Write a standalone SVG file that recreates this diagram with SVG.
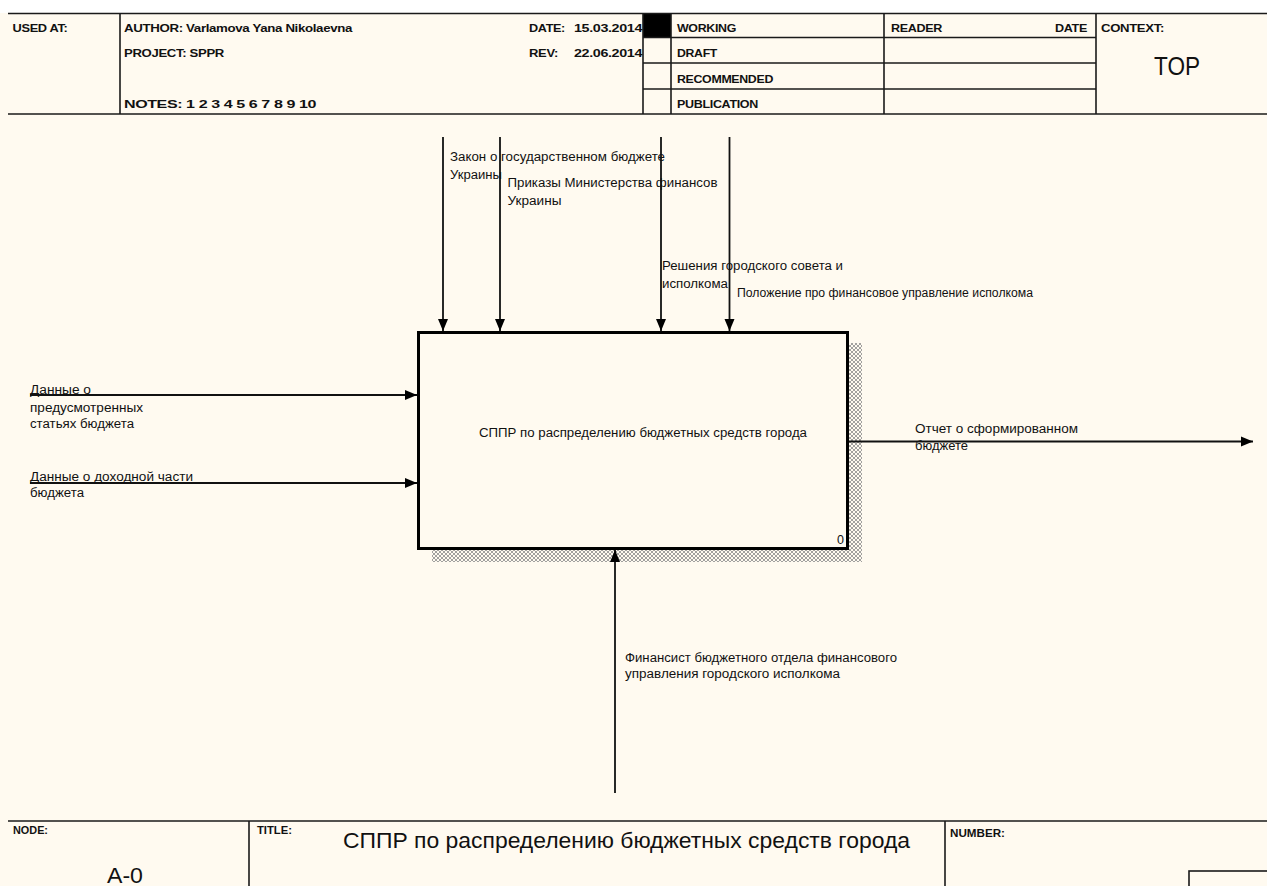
<svg xmlns="http://www.w3.org/2000/svg" width="1267" height="886" viewBox="0 0 1267 886">
<style>
  .frm{stroke:#1a1a1a;stroke-width:1.6;fill:none}
  .hd{font-family:"Liberation Sans",Arial,sans-serif;font-size:11.5px;fill:#111;font-weight:bold;letter-spacing:-0.3px}
  .sm{font-family:"Liberation Sans",Arial,sans-serif;font-size:10px;fill:#111;font-weight:bold}
  .lbl{font-family:"Liberation Sans",Arial,sans-serif;font-size:12.5px;fill:#111}
  .big{font-family:"Liberation Sans",Arial,sans-serif;font-size:22px;fill:#111}
  .top{font-family:"Liberation Sans",Arial,sans-serif;font-size:26px;fill:#111}
  .cn{stroke:#111;stroke-width:1.8;fill:none}
</style>
<defs>
  <marker id="ah" markerUnits="userSpaceOnUse" markerWidth="14" markerHeight="12" refX="12" refY="6" orient="auto">
    <path d="M0,1 L12,6 L0,11 Z" fill="#000"/>
  </marker>
  <pattern id="hatch" width="4" height="4" patternUnits="userSpaceOnUse">
    <rect width="4" height="4" fill="#fffaf0"/>
    <path d="M0,0 L4,4 M4,0 L0,4" stroke="#8a8a8a" stroke-width="0.8"/>
  </pattern>
</defs>
<rect x="0" y="0" width="1267" height="886" fill="#fffaf0"/>
<rect x="0" y="0" width="1267" height="13" fill="#ffffff"/>

<g id="header">
  <rect x="643" y="13" width="28" height="24.5" fill="#000"/>
  <line class="frm" x1="8" y1="13.5" x2="1267" y2="13.5"/>
  <line class="frm" x1="8" y1="114" x2="1267" y2="114"/>
  <line class="frm" x1="120" y1="13.5" x2="120" y2="114"/>
  <line class="frm" x1="643" y1="13.5" x2="643" y2="114"/>
  <line class="frm" x1="671" y1="13.5" x2="671" y2="114"/>
  <line class="frm" x1="884" y1="13.5" x2="884" y2="114"/>
  <line class="frm" x1="1096" y1="13.5" x2="1096" y2="114"/>
  <line class="frm" x1="643" y1="37.5" x2="1096" y2="37.5"/>
  <line class="frm" x1="643" y1="63" x2="1096" y2="63"/>
  <line class="frm" x1="643" y1="89" x2="1096" y2="89"/>
  <text class="hd" x="12.5" y="31.5" textLength="55" lengthAdjust="spacingAndGlyphs">USED AT:</text>
  <text class="hd" x="124" y="31.5" textLength="228" lengthAdjust="spacingAndGlyphs">AUTHOR:  Varlamova Yana Nikolaevna</text>
  <text class="hd" x="124" y="56.5" textLength="100" lengthAdjust="spacingAndGlyphs">PROJECT:  SPPR</text>
  <text class="hd" x="124" y="108" textLength="192" lengthAdjust="spacingAndGlyphs">NOTES:  1  2  3  4  5  6  7  8  9  10</text>
  <text class="hd" x="529" y="31.5" textLength="36" lengthAdjust="spacingAndGlyphs">DATE:</text>
  <text class="hd" x="574" y="31.5" textLength="68" lengthAdjust="spacingAndGlyphs">15.03.2014</text>
  <text class="hd" x="529" y="57" textLength="29" lengthAdjust="spacingAndGlyphs">REV:</text>
  <text class="hd" x="574" y="57" textLength="68" lengthAdjust="spacingAndGlyphs">22.06.2014</text>
  <text class="hd" x="677" y="31.5" textLength="59" lengthAdjust="spacingAndGlyphs">WORKING</text>
  <text class="hd" x="677" y="57" textLength="40" lengthAdjust="spacingAndGlyphs">DRAFT</text>
  <text class="hd" x="677" y="82.5" textLength="96" lengthAdjust="spacingAndGlyphs">RECOMMENDED</text>
  <text class="hd" x="677" y="108" textLength="81" lengthAdjust="spacingAndGlyphs">PUBLICATION</text>
  <text class="hd" x="891" y="31.5" textLength="51" lengthAdjust="spacingAndGlyphs">READER</text>
  <text class="hd" x="1055" y="31.5" textLength="32" lengthAdjust="spacingAndGlyphs">DATE</text>
  <text class="hd" x="1101" y="31.5" textLength="63" lengthAdjust="spacingAndGlyphs">CONTEXT:</text>
  <text class="top" x="1154" y="75" textLength="46" lengthAdjust="spacingAndGlyphs">TOP</text>
</g>

<g id="node-A0">
  <rect x="432" y="343" width="430" height="219" fill="url(#hatch)"/>
  <rect x="418.5" y="332.5" width="429" height="216" fill="#fffaf0" stroke="#000" stroke-width="3"/>
  <text class="lbl" x="479" y="437" textLength="328" lengthAdjust="spacingAndGlyphs">СППР по распределению бюджетных средств города</text>
  <text class="lbl" x="837" y="544">0</text>
</g>

<g id="connectors">
  <line class="cn" x1="443" y1="137" x2="443" y2="331" marker-end="url(#ah)"/>
  <line class="cn" x1="500" y1="137" x2="500" y2="331" marker-end="url(#ah)"/>
  <line class="cn" x1="661" y1="137" x2="661" y2="331" marker-end="url(#ah)"/>
  <line class="cn" x1="729.5" y1="137" x2="729.5" y2="331" marker-end="url(#ah)"/>
  <line class="cn" x1="30" y1="395" x2="417" y2="395" marker-end="url(#ah)"/>
  <line class="cn" x1="30" y1="483" x2="417" y2="483" marker-end="url(#ah)"/>
  <line class="cn" x1="849" y1="441.5" x2="1253" y2="441.5" marker-end="url(#ah)"/>
  <line class="cn" x1="615" y1="793" x2="615" y2="550" marker-end="url(#ah)"/>

  <text class="lbl" x="450" y="161" textLength="215" lengthAdjust="spacingAndGlyphs">Закон о государственном бюджете</text>
  <text class="lbl" x="450" y="179" textLength="52" lengthAdjust="spacingAndGlyphs">Украины</text>
  <text class="lbl" x="507.5" y="187" textLength="210" lengthAdjust="spacingAndGlyphs">Приказы Министерства финансов</text>
  <text class="lbl" x="507.5" y="205" textLength="54" lengthAdjust="spacingAndGlyphs">Украины</text>
  <text class="lbl" x="662" y="270" textLength="181" lengthAdjust="spacingAndGlyphs">Решения городского совета и</text>
  <text class="lbl" x="662" y="288" textLength="66" lengthAdjust="spacingAndGlyphs">исполкома</text>
  <text class="lbl" x="737" y="297" textLength="296" lengthAdjust="spacingAndGlyphs">Положение про финансовое управление исполкома</text>
  <text class="lbl" x="30" y="394" textLength="61" lengthAdjust="spacingAndGlyphs">Данные о</text>
  <text class="lbl" x="30" y="412" textLength="113" lengthAdjust="spacingAndGlyphs">предусмотренных</text>
  <text class="lbl" x="30" y="428" textLength="104" lengthAdjust="spacingAndGlyphs">статьях бюджета</text>
  <text class="lbl" x="30" y="481" textLength="163" lengthAdjust="spacingAndGlyphs">Данные о доходной части</text>
  <text class="lbl" x="30" y="497" textLength="54" lengthAdjust="spacingAndGlyphs">бюджета</text>
  <text class="lbl" x="915" y="433" textLength="163" lengthAdjust="spacingAndGlyphs">Отчет о сформированном</text>
  <text class="lbl" x="915" y="450" textLength="53" lengthAdjust="spacingAndGlyphs">бюджете</text>
  <text class="lbl" x="625" y="662" textLength="272" lengthAdjust="spacingAndGlyphs">Финансист бюджетного отдела финансового</text>
  <text class="lbl" x="625" y="678" textLength="215" lengthAdjust="spacingAndGlyphs">управления городского исполкома</text>
</g>

<g id="footer">
  <line class="frm" x1="8" y1="821" x2="1267" y2="821"/>
  <line class="frm" x1="249" y1="821" x2="249" y2="886"/>
  <line class="frm" x1="945" y1="821" x2="945" y2="886"/>
  <rect x="1189" y="871" width="80" height="20" fill="none" stroke="#1a1a1a" stroke-width="1.6"/>
  <text class="sm" x="13" y="834" textLength="35" lengthAdjust="spacingAndGlyphs">NODE:</text>
  <text class="sm" x="257" y="834" textLength="35" lengthAdjust="spacingAndGlyphs">TITLE:</text>
  <text class="sm" x="950" y="837" textLength="55" lengthAdjust="spacingAndGlyphs">NUMBER:</text>
  <text class="big" x="107" y="883" textLength="36" lengthAdjust="spacingAndGlyphs">A-0</text>
  <text class="big" x="343" y="848" textLength="567" lengthAdjust="spacingAndGlyphs">СППР по распределению бюджетных средств города</text>
</g>
</svg>
